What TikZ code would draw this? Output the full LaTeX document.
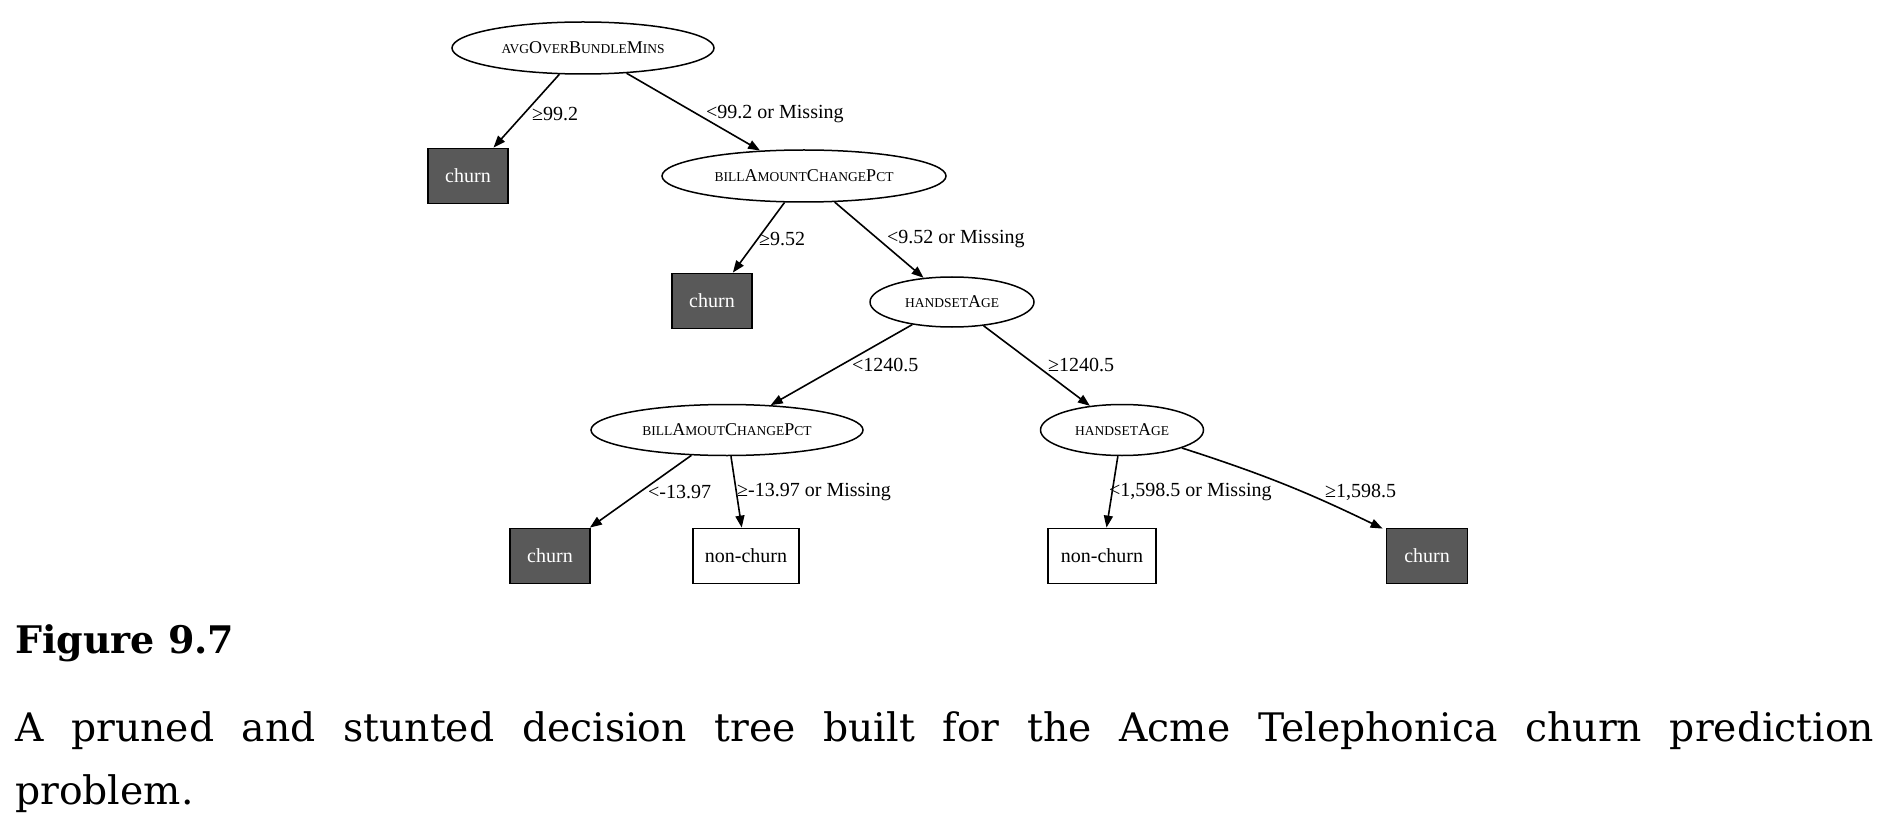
\documentclass[tikz,border=0pt]{standalone}
\usepackage{fontspec}
\setmainfont{Liberation Serif}
\newfontfamily\capfont{DejaVu Serif}
\usetikzlibrary{shapes.geometric,arrows.meta}
\newcommand{\smc}[1]{{\fontsize{13.5}{16}\selectfont\MakeUppercase{#1}}}
\tikzset{
  attr/.style={draw, line width=1.5pt, ellipse, inner sep=0pt, font=\fontsize{18}{20}\selectfont},
  leafchurn/.style={draw, line width=1.8pt, fill=black!65, text=white, rectangle, inner sep=0pt, minimum width=80pt, minimum height=55pt, font=\fontsize{20}{22}\selectfont},
  leafnon/.style={draw, line width=1.8pt, fill=white, rectangle, inner sep=0pt, minimum height=55pt, font=\fontsize{20}{22}\selectfont},
  edge/.style={draw, line width=1.6pt, -{Triangle[length=12pt,width=9pt]}},
  elabel/.style={anchor=west, inner sep=0pt, font=\fontsize{20}{22}\selectfont},
  captxt/.style={anchor=base west, inner sep=0pt, font=\capfont\fontsize{39.3}{44}\selectfont}
}
\begin{document}
\begin{tikzpicture}[x=1pt,y=-1pt]
\useasboundingbox (0,0) rectangle (1892,826);
% attribute nodes
\node[attr, minimum width=262pt, minimum height=52pt] (root) at (583,48) {\smc{avg}O\smc{ver}B\smc{undle}M\smc{ins}};
\node[attr, minimum width=284pt, minimum height=52pt] (bill1) at (804,176) {\smc{bill}A\smc{mount}C\smc{hange}P\smc{ct}};
\node[attr, minimum width=164pt, minimum height=50pt] (hs1) at (952,302) {\smc{handset}A\smc{ge}};
\node[attr, minimum width=272pt, minimum height=51pt] (bill2) at (727,430) {\smc{bill}A\smc{mout}C\smc{hange}P\smc{ct}};
\node[attr, minimum width=163pt, minimum height=51pt] (hs2) at (1122,430) {\smc{handset}A\smc{ge}};
% leaves
\node[leafchurn] (c1) at (468,176) {churn};
\node[leafchurn] (c2) at (712,301) {churn};
\node[leafchurn] (c3) at (550,556) {churn};
\node[leafnon, minimum width=106pt] (n1) at (746,556) {non-churn};
\node[leafnon, minimum width=108pt] (n2) at (1102,556) {non-churn};
\node[leafchurn, minimum width=81pt] (c4) at (1427,556) {churn};
% edges
\draw[edge] (root) -- (c1);
\draw[edge] (root) -- (bill1);
\draw[edge] (bill1) -- (c2);
\draw[edge] (bill1) -- (hs1);
\draw[edge] (hs1) -- (bill2);
\draw[edge] (hs1) -- (hs2);
\draw[edge] (bill2) -- (c3);
\draw[edge] (bill2) -- (n1);
\draw[edge] (hs2) -- (n2);
\draw[edge] (hs2) to[bend left=4] ([xshift=-3pt,yshift=-1pt]c4.north west);
% edge labels
\node[elabel] (l1) at (532,114) {≥99.2};
\node[elabel] (l2) at (706,114) {<99.2 or Missing};
\node[elabel] (l3) at (759,239) {≥9.52};
\node[elabel] (l4) at (887,239) {<9.52 or Missing};
\node[elabel] (l5) at (852,365) {<1240.5};
\node[elabel] (l6) at (1048,365) {≥1240.5};
\node[elabel] (l7) at (648,492) {<-13.97};
\node[elabel] (l8) at (737,492) {≥-13.97 or Missing};
\node[elabel] (l9) at (1109,492) {<1,598.5 or Missing};
\node[elabel] (l10) at (1325,492) {≥1,598.5};
% caption
\node[captxt, font=\capfont\bfseries\fontsize{38}{44}\selectfont] (fig) at (15,653) {Figure 9.7};
\node[captxt] (cap1) at (15,741) {\makebox[1859pt][s]{A pruned and stunted decision tree built for the Acme Telephonica churn prediction}};
\node[captxt] (cap2) at (15,804) {problem.};
\end{tikzpicture}
\end{document}
